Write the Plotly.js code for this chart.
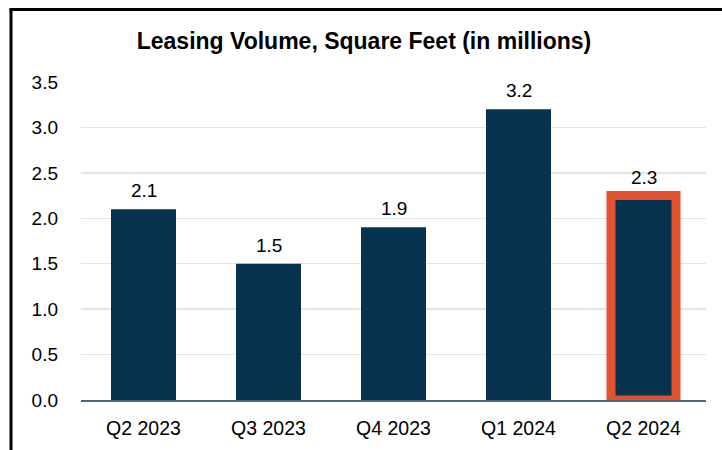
<!DOCTYPE html>
<html>
<head>
<meta charset="utf-8">
<script src="https://cdn.plot.ly/plotly-3.0.1.min.js"></script>
<style>html,body{margin:0;padding:0;background:#fff;}#chart{width:722px;height:450px;}</style>
</head>
<body>
<div id="chart"></div>
<script>
const categories = ["Q2 2023", "Q3 2023", "Q4 2023", "Q1 2024", "Q2 2024"];
const leasingVolume = [2.1, 1.5, 1.9, 3.2, 2.25];
const valueLabels = ["2.1", "1.5", "1.9", "3.2", "2.3"];
const highlightIndex = 4;
const yTicks = [0, 0.5, 1.0, 1.5, 2.0, 2.5, 3.0, 3.5];

const NAVY = "#08334f";
const ORANGE = "#e2522e";

const W = 722, H = 450;
const M = {l: 81, r: 16, t: 82, b: 50};
const pw = W - M.l - M.r, ph = H - M.t - M.b;
const px2x = p => (p - M.l) / pw;
const py2y = p => (H - M.b - p) / ph;

const lineColors = categories.map((c, i) => i === highlightIndex ? ORANGE : "rgba(0,0,0,0)");
const lineWidths = categories.map((c, i) => i === highlightIndex ? 9 : 0);

const trace = {
  type: "bar",
  x: categories,
  y: leasingVolume,
  width: 0.52,
  marker: {color: NAVY, line: {color: lineColors, width: lineWidths}},
  hoverinfo: "skip"
};

const annotations = categories.map((c, i) => ({
  x: c, y: leasingVolume[i], xref: "x", yref: "y",
  text: valueLabels[i], showarrow: false,
  yanchor: "bottom", yshift: 6,
  font: {family: "Liberation Sans, Arial, sans-serif", size: 19, color: "#000"}
}));

const layout = {
  width: W, height: H,
  margin: M,
  paper_bgcolor: "#fff", plot_bgcolor: "#fff",
  showlegend: false,
  font: {family: "Liberation Sans, Arial, sans-serif", size: 19, color: "#000"},
  title: {
    text: "<b>Leasing Volume, Square Feet (in millions)</b>",
    font: {family: "Liberation Sans, Arial, sans-serif", size: 23, color: "#000"},
    x: 364 / W, xref: "container", xanchor: "center",
    y: 1 - 41 / H, yref: "container", yanchor: "middle"
  },
  xaxis: {
    type: "category",
    showgrid: false, zeroline: false,
    showline: true, linecolor: "#4a6a84", linewidth: 2,
    ticks: "", ticklabelstandoff: 10,
    tickfont: {size: 19.5, color: "#000"},
    fixedrange: true
  },
  yaxis: {
    range: [0, 3.5],
    tickvals: yTicks,
    tickformat: ".1f",
    showgrid: true, gridcolor: "#e4e4e4", gridwidth: 1.5,
    zeroline: false, showline: false,
    ticks: "", ticklabelstandoff: 22,
    tickfont: {size: 19, color: "#000"},
    fixedrange: true
  },
  annotations: annotations,
  shapes: [
    {type: "line", xref: "paper", yref: "paper", x0: px2x(11), x1: px2x(11), y0: py2y(9), y1: py2y(452), line: {color: "#000", width: 3}},
    {type: "line", xref: "paper", yref: "paper", x0: px2x(9.5), x1: px2x(724), y0: py2y(9.5), y1: py2y(9.5), line: {color: "#000", width: 3}}
  ]
};

Plotly.newPlot("chart", [trace], layout, {displayModeBar: false, staticPlot: true});
</script>
</body>
</html>
